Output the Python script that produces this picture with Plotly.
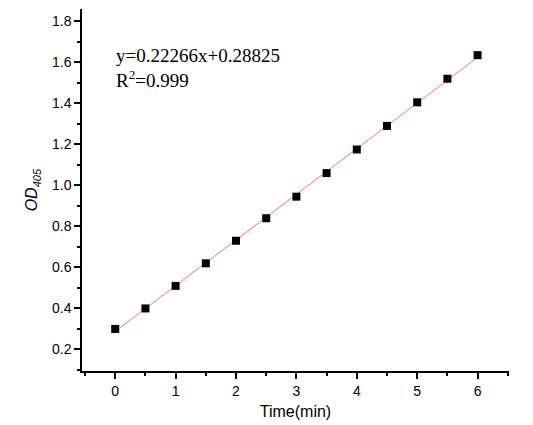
import plotly.graph_objects as go

time_min = [0, 0.5, 1, 1.5, 2, 2.5, 3, 3.5, 4, 4.5, 5, 5.5, 6]
od405 = [0.30, 0.40, 0.51, 0.62, 0.73, 0.84, 0.945, 1.06, 1.175, 1.29, 1.405, 1.52, 1.635]
slope, intercept = 0.22266, 0.28825
x_tick_vals = [0, 1, 2, 3, 4, 5, 6]
y_tick_vals = [0.2, 0.4, 0.6, 0.8, 1.0, 1.2, 1.4, 1.6, 1.8]

fit_x = [min(time_min), max(time_min)]
fit_y = [slope * v + intercept for v in fit_x]

fig = go.Figure()
fig.add_trace(go.Scatter(x=fit_x, y=fit_y, mode="lines",
                         line=dict(color="#ff7070", width=1), showlegend=False))
fig.add_trace(go.Scatter(x=time_min, y=od405, mode="markers",
                         marker=dict(symbol="square", size=8, color="black"), showlegend=False))

fig.add_annotation(x=0.075, y=0.905, xref="paper", yref="paper", xanchor="left", yanchor="top",
                   text="y=0.22266x+0.28825<br>R<sup>2</sup>=0.999", align="left", showarrow=False,
                   font=dict(family="Liberation Serif", size=19, color="black"))

axis_common = dict(showline=True, linecolor="black", linewidth=1.5, ticks="outside",
                   tickwidth=1.5, ticklen=6, tickcolor="black", showgrid=False, zeroline=False,
                   tickfont=dict(family="Liberation Sans", size=14, color="black"))
fig.update_xaxes(range=[-0.55, 6.52], tickvals=x_tick_vals,
                 minor=dict(dtick=0.5, ticks="outside", ticklen=3, tickwidth=1.5, tickcolor="black"),
                 title=dict(text="Time(min)", font=dict(family="Liberation Sans", size=16, color="black"), standoff=8),
                 **axis_common)
fig.update_yaxes(range=[0.095, 1.86], tickvals=y_tick_vals, tickformat=".1f",
                 minor=dict(dtick=0.1, ticks="outside", ticklen=3, tickwidth=1.5, tickcolor="black"),
                 title=dict(text="<i>OD<sub>405</sub></i>", font=dict(family="Liberation Sans", size=16, color="black"), standoff=10),
                 **axis_common)
fig.update_layout(width=533, height=425, margin=dict(l=74, r=32, t=1, b=62),
                  plot_bgcolor="white", paper_bgcolor="white")
fig.write_html("out.html")
